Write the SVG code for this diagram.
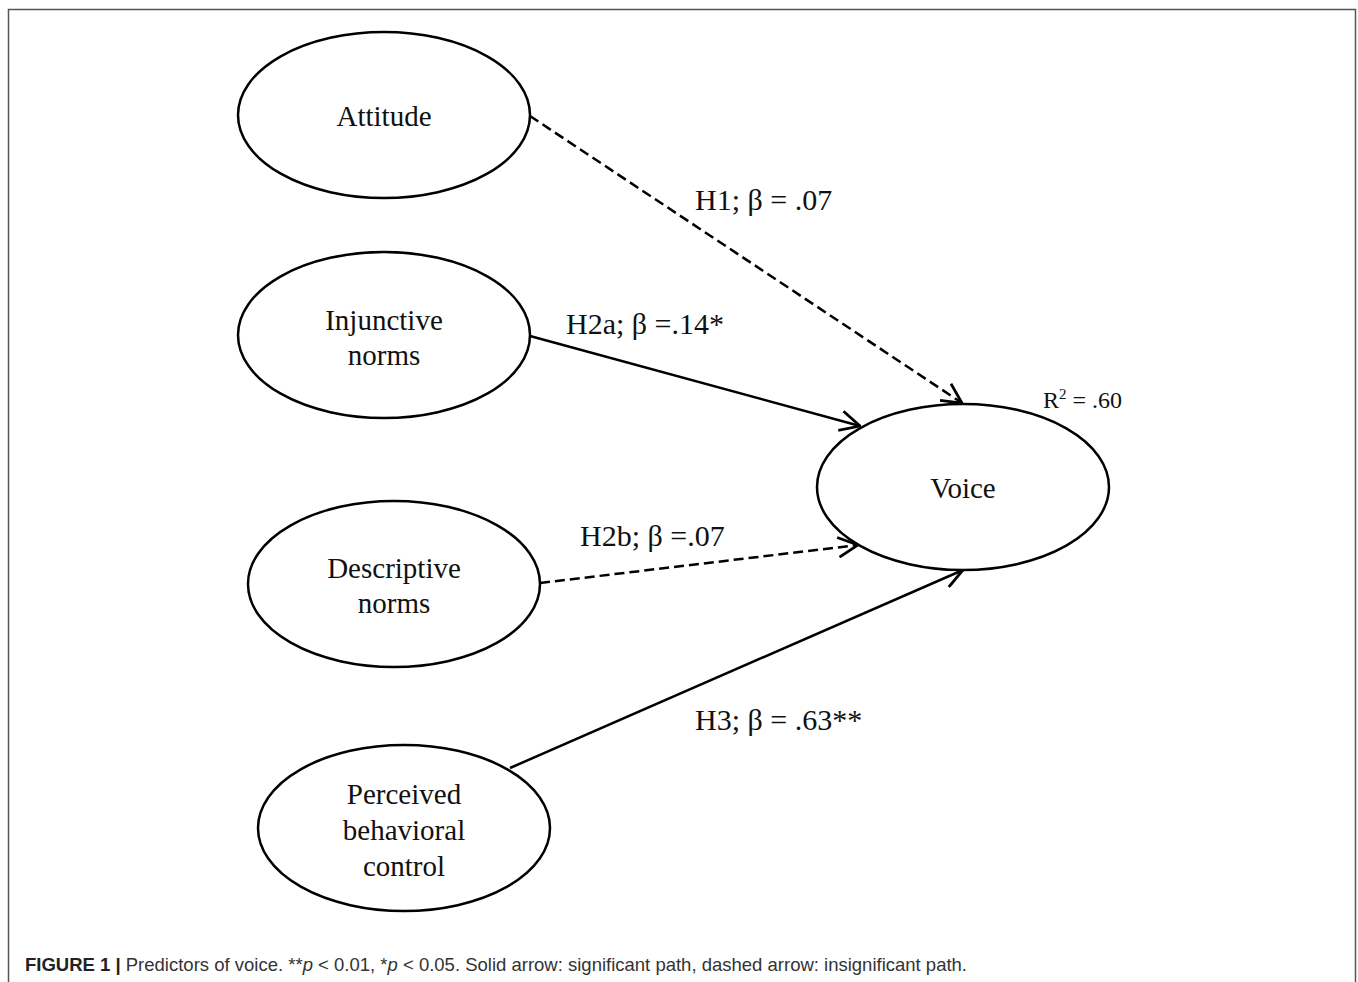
<svg xmlns="http://www.w3.org/2000/svg" width="1358" height="982" viewBox="0 0 1358 982">
<style>
.node ellipse{fill:#fff;stroke:#000;stroke-width:2.5}
.node text{font-family:"Liberation Serif",serif;font-size:29px;text-anchor:middle;fill:#111}
.lbl{font-family:"Liberation Serif",serif;font-size:30px;fill:#111}
.edge{stroke:#000;stroke-width:2.5;fill:none}
.dash{stroke-dasharray:10,5}
.cap{font-family:"Liberation Sans",Arial,sans-serif;font-size:18.5px;fill:#333}
</style>
<defs>
<marker id="ah" viewBox="0 0 20 20" refX="19" refY="10" markerWidth="22" markerHeight="22" markerUnits="userSpaceOnUse" orient="auto">
<path d="M1,1 L19,10 L1,19" fill="none" stroke="#000" stroke-width="2.5"/>
</marker>
</defs>
<rect width="1358" height="982" fill="#fff"/>
<path d="M8.5,982 V9.5 H1355.5 V982" fill="none" stroke="#555" stroke-width="1.5"/>
<g id="edges">
<line class="edge dash" x1="530" y1="116" x2="962" y2="403" marker-end="url(#ah)"/>
<line class="edge" x1="530" y1="336" x2="860" y2="426" marker-end="url(#ah)"/>
<line class="edge dash" x1="540" y1="583" x2="858" y2="545" marker-end="url(#ah)"/>
<line class="edge" x1="510" y1="768" x2="963" y2="570" marker-end="url(#ah)"/>
</g>
<g id="labels">
<text class="lbl" x="695" y="210">H1; β = .07</text>
<text class="lbl" x="566" y="334">H2a; β =.14*</text>
<text class="lbl" x="580" y="546">H2b; β =.07</text>
<text class="lbl" x="695" y="730">H3; β = .63**</text>
<text class="lbl" x="1043" y="408" style="font-size:24px">R<tspan dy="-9" style="font-size:15px">2</tspan><tspan dy="9"> = .60</tspan></text>
</g>
<g id="attitude" class="node"><ellipse cx="384" cy="115" rx="146" ry="83"/><text x="384" y="126">Attitude</text></g>
<g id="injunctive" class="node"><ellipse cx="384" cy="335" rx="146" ry="83"/><text x="384" y="330">Injunctive</text><text x="384" y="365">norms</text></g>
<g id="descriptive" class="node"><ellipse cx="394" cy="584" rx="146" ry="83"/><text x="394" y="578">Descriptive</text><text x="394" y="613">norms</text></g>
<g id="pbc" class="node"><ellipse cx="404" cy="828" rx="146" ry="83"/><text x="404" y="804">Perceived</text><text x="404" y="840">behavioral</text><text x="404" y="876">control</text></g>
<g id="voice" class="node"><ellipse cx="963" cy="487" rx="146" ry="83"/><text x="963" y="498">Voice</text></g>
<text class="cap" x="25" y="971"><tspan font-weight="bold" fill="#222">FIGURE 1 |</tspan> Predictors of voice. **<tspan font-style="italic">p</tspan> &lt; 0.01, *<tspan font-style="italic">p</tspan> &lt; 0.05. Solid arrow: significant path, dashed arrow: insignificant path.</text>
</svg>
